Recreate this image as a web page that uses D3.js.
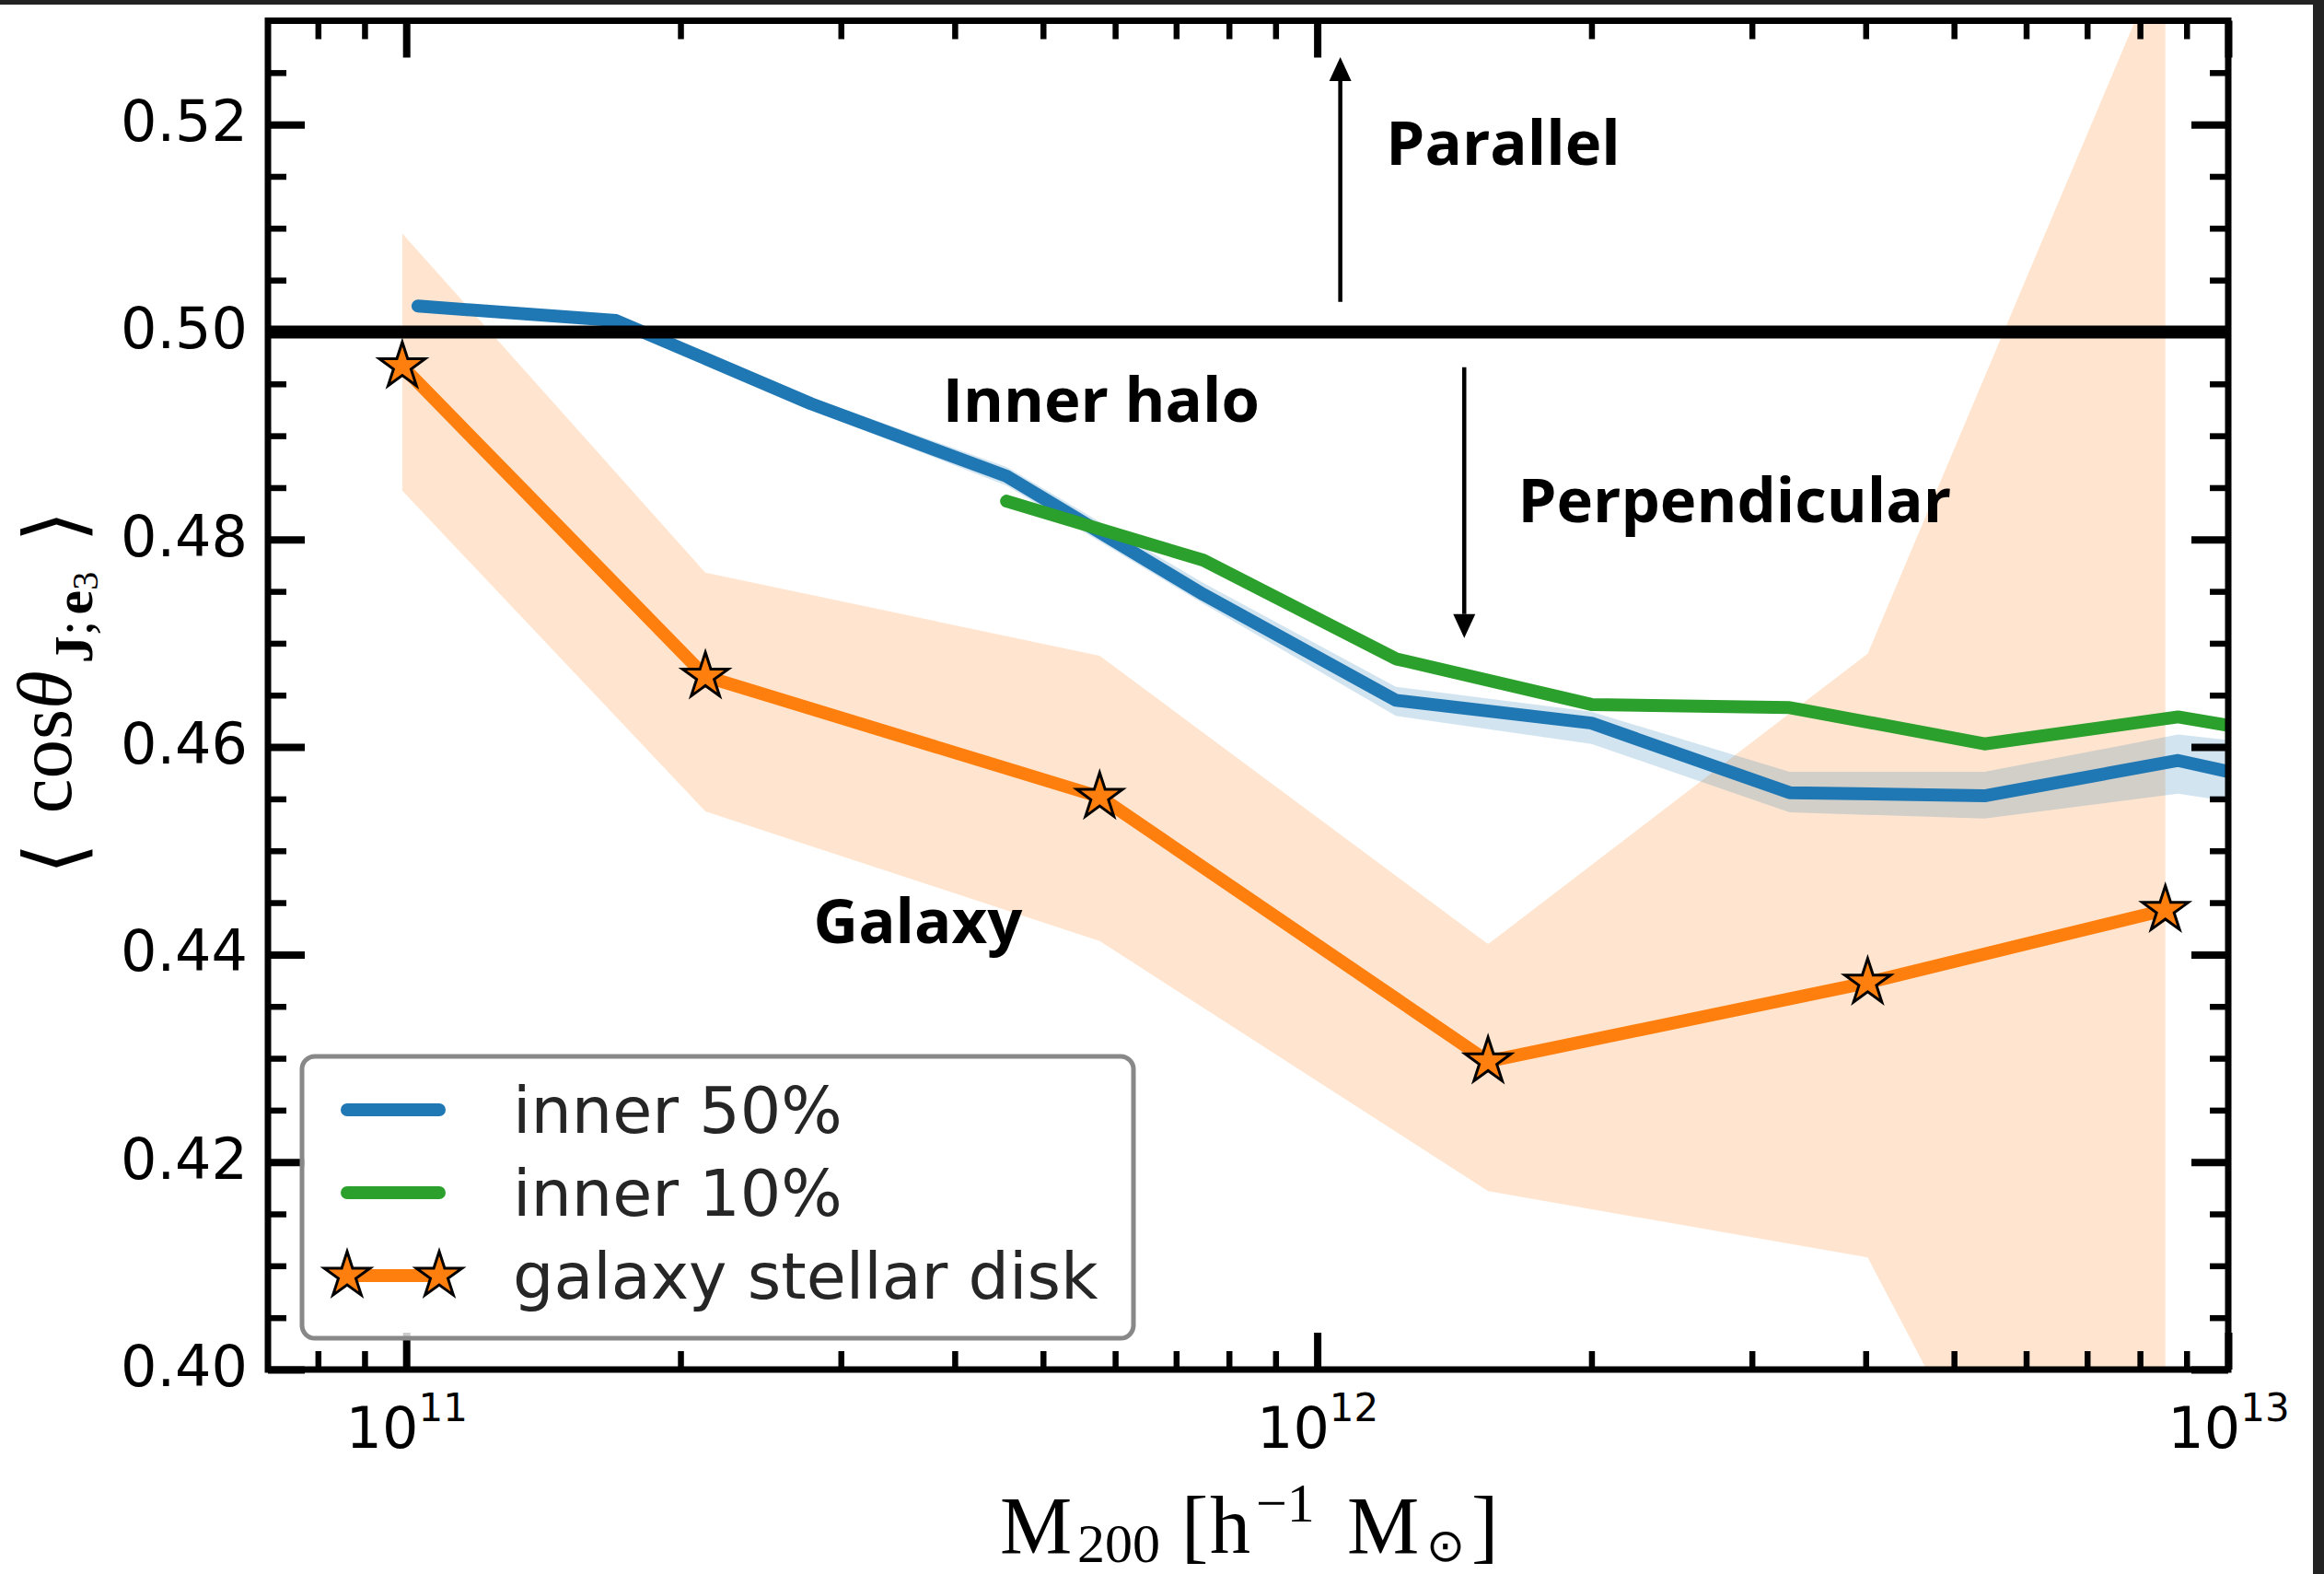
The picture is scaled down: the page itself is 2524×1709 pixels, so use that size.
<!DOCTYPE html>
<html>
<head>
<meta charset="utf-8">
<script src="https://cdn.jsdelivr.net/npm/d3@7"></script>
<style>
  html, body { margin: 0; padding: 0; background: #fff; }
  svg { display: block; }
</style>
</head>
<body>
<script>
// ---- data -------------------------------------------------------------
// halo mass bins used for the inner-halo measurements
const massInner50 = [1.03e11, 1.70e11, 2.78e11, 4.56e11, 7.50e11, 1.22e12, 2.00e12, 3.30e12, 5.40e12, 8.81e12, 1.45e13];
const inner50     = [0.5025, 0.5011, 0.4931, 0.4861, 0.4747, 0.4645, 0.4623, 0.4556, 0.4553, 0.4587, 0.4545];
const inner50Hi   = [0.5029, 0.5016, 0.4937, 0.4870, 0.4758, 0.4658, 0.4634, 0.4576, 0.4576, 0.4612, 0.4591];
const inner50Lo   = [0.5021, 0.5006, 0.4925, 0.4852, 0.4738, 0.4630, 0.4603, 0.4537, 0.4531, 0.4555, 0.4526];

const massInner10 = [4.56e11, 7.50e11, 1.22e12, 2.00e12, 3.30e12, 5.40e12, 8.81e12, 1.45e13];
const inner10     = [0.4837, 0.4780, 0.4685, 0.4641, 0.4638, 0.4603, 0.4629, 0.4597];

// galaxy stellar disk
const massDisk = [9.9e10, 2.13e11, 5.77e11, 1.54e12, 4.02e12, 8.53e12];
const disk     = [0.4967, 0.4668, 0.4552, 0.4297, 0.4373, 0.4443];
const diskHi   = [0.5095, 0.4768, 0.4688, 0.4410, 0.4690, 0.5369];
const diskLo   = [0.4847, 0.4538, 0.4413, 0.4172, 0.4108, 0.3562];

// axes
const xDomain = [7.05e10, 1e13];
const yDomain = [0.40, 0.53];
const xMajorTicks = [1e11, 1e12, 1e13];
const xMinorTicks = [8e10, 9e10, 2e11, 3e11, 4e11, 5e11, 6e11, 7e11, 8e11, 9e11,
                     2e12, 3e12, 4e12, 5e12, 6e12, 7e12, 8e12, 9e12];
const yMajorTicks = [0.40, 0.42, 0.44, 0.46, 0.48, 0.50, 0.52];
const yMinorTicks = [0.405, 0.41, 0.415, 0.425, 0.43, 0.435, 0.445, 0.45, 0.455,
                     0.465, 0.47, 0.475, 0.485, 0.49, 0.495, 0.505, 0.51, 0.515, 0.525];
const refLevel = 0.50;

// annotation anchors [mass, value]
const arrowUp   = [[1.06e12, 0.5029], [1.06e12, 0.5265]];
const arrowDown = [[1.45e12, 0.4966], [1.45e12, 0.4705]];
const notes = [
  { text: "Parallel",      m: 1.19e12, v: 0.5161 },
  { text: "Inner halo",    m: 3.88e11, v: 0.4913 },
  { text: "Perpendicular", m: 1.66e12, v: 0.4817 },
  { text: "Galaxy",        m: 2.80e11, v: 0.4411 }
];

const legendItems = [
  { label: "inner 50%", color: "#1f77b4", star: false },
  { label: "inner 10%", color: "#2ca02c", star: false },
  { label: "galaxy stellar disk", color: "#ff7f0e", star: true }
];

// ---- layout -----------------------------------------------------------
const W = 2524, H = 1709;
const L = 291, R = 2420, T = 22.5, B = 1487;

const svg = d3.select("body").append("svg").attr("width", W).attr("height", H);
svg.append("rect").attr("width", W).attr("height", H).attr("fill", "#fff");

const x = d3.scaleLog().domain(xDomain).range([L, R]);
const y = d3.scaleLinear().domain(yDomain).range([B, T]);

svg.append("clipPath").attr("id", "plotclip")
  .append("rect").attr("x", L).attr("y", T).attr("width", R - L).attr("height", B - T);

const plot = svg.append("g").attr("clip-path", "url(#plotclip)");

const LW = 14;
const band = (ms, lo, hi) => d3.area()
  .x((d, i) => x(ms[i])).y0((d, i) => y(lo[i])).y1((d, i) => y(hi[i]))(ms);
const line = (ms, vs) => d3.line().x((d, i) => x(ms[i])).y((d, i) => y(vs[i]))(ms);

// shaded ranges
plot.append("path").attr("d", band(massDisk, diskLo, diskHi))
  .attr("fill", "#ff7f0e").attr("fill-opacity", 0.2);
plot.append("path").attr("d", band(massInner50, inner50Lo, inner50Hi))
  .attr("fill", "#1f77b4").attr("fill-opacity", 0.2);

// curves
plot.append("path").attr("d", line(massDisk, disk))
  .attr("fill", "none").attr("stroke", "#ff7f0e").attr("stroke-width", LW)
  .attr("stroke-linecap", "round").attr("stroke-linejoin", "round");
plot.append("path").attr("d", line(massInner50, inner50))
  .attr("fill", "none").attr("stroke", "#1f77b4").attr("stroke-width", LW)
  .attr("stroke-linecap", "round").attr("stroke-linejoin", "round");
plot.append("path").attr("d", line(massInner10, inner10))
  .attr("fill", "none").attr("stroke", "#2ca02c").attr("stroke-width", LW)
  .attr("stroke-linecap", "round").attr("stroke-linejoin", "round");

const star = d3.symbol().type(d3.symbolStar).size(770);
plot.selectAll(".star").data(massDisk).join("path")
  .attr("class", "star")
  .attr("transform", (d, i) => `translate(${x(d)},${y(disk[i])})`)
  .attr("d", star)
  .attr("fill", "#ff7f0e").attr("stroke", "#000").attr("stroke-width", 3)
  .attr("stroke-linejoin", "miter");

// reference line
plot.append("line")
  .attr("x1", L).attr("x2", R).attr("y1", y(refLevel)).attr("y2", y(refLevel))
  .attr("stroke", "#000").attr("stroke-width", 14);

// ---- axes -------------------------------------------------------------
const tickFont = "'DejaVu Sans', sans-serif";
function styleAxis(g, width) {
  g.select(".domain").remove();
  g.selectAll(".tick line").attr("stroke", "#000").attr("stroke-width", width);
  g.selectAll(".tick text").attr("fill", "#000").style("font-family", tickFont).style("font-size", "62px");
}

// left
svg.append("g").attr("transform", `translate(${L},0)`)
  .call(d3.axisLeft(y).tickValues(yMajorTicks).tickSize(-40).tickPadding(22).tickFormat(d3.format(".2f")))
  .call(g => styleAxis(g, 8))
  .call(g => g.selectAll(".tick text").attr("dy", "0.28em"));
svg.append("g").attr("transform", `translate(${L},0)`)
  .call(d3.axisLeft(y).tickValues(yMinorTicks).tickSize(-20).tickFormat(""))
  .call(g => styleAxis(g, 6.5));
// right
svg.append("g").attr("transform", `translate(${R},0)`)
  .call(d3.axisRight(y).tickValues(yMajorTicks).tickSize(-40).tickFormat(""))
  .call(g => styleAxis(g, 8));
svg.append("g").attr("transform", `translate(${R},0)`)
  .call(d3.axisRight(y).tickValues(yMinorTicks).tickSize(-20).tickFormat(""))
  .call(g => styleAxis(g, 6.5));
// bottom
svg.append("g").attr("transform", `translate(0,${B})`)
  .call(d3.axisBottom(x).tickValues(xMajorTicks).tickSize(-40).tickPadding(41).tickFormat(() => ""))
  .call(g => styleAxis(g, 8))
  .call(g => g.selectAll(".tick text").each(function (d) {
    const t = d3.select(this);
    t.append("tspan").text("10");
    t.append("tspan").attr("dy", -29).style("font-size", "42px").text(Math.round(Math.log10(d)));
  }));
svg.append("g").attr("transform", `translate(0,${B})`)
  .call(d3.axisBottom(x).tickValues(xMinorTicks).tickSize(-20).tickFormat(""))
  .call(g => styleAxis(g, 6.5));
// top
svg.append("g").attr("transform", `translate(0,${T})`)
  .call(d3.axisTop(x).tickValues(xMajorTicks).tickSize(-40).tickFormat(""))
  .call(g => styleAxis(g, 8));
svg.append("g").attr("transform", `translate(0,${T})`)
  .call(d3.axisTop(x).tickValues(xMinorTicks).tickSize(-20).tickFormat(""))
  .call(g => styleAxis(g, 6.5));

// frame
svg.append("rect").attr("x", L).attr("y", T).attr("width", R - L).attr("height", B - T)
  .attr("fill", "none").attr("stroke", "#000").attr("stroke-width", 7);

// ---- axis titles ------------------------------------------------------
const serif = "'Liberation Serif', 'DejaVu Serif', serif";
const xt = svg.append("text").attr("fill", "#000").style("font-family", serif).style("font-size", "88px");
xt.append("tspan").attr("x", 1086).attr("y", 1686).text("M");
xt.append("tspan").attr("x", 1170).attr("y", 1696).style("font-size", "60px").text("200");
xt.append("tspan").attr("x", 1283).attr("y", 1686).text("[");
xt.append("tspan").attr("x", 1314).attr("y", 1686).text("h");
xt.append("tspan").attr("x", 1364).attr("y", 1652).style("font-size", "60px").text("\u22121");
xt.append("tspan").attr("x", 1463).attr("y", 1686).text("M");
xt.append("tspan").attr("x", 1549).attr("y", 1695).style("font-size", "50px")
  .style("font-family", "'DejaVu Sans', sans-serif").text("\u2299");
xt.append("tspan").attr("x", 1598).attr("y", 1686).text("]");

const yt = svg.append("text").attr("transform", "translate(77,752) rotate(-90)")
  .attr("text-anchor", "middle").attr("fill", "#000")
  .style("font-family", serif).style("font-size", "85px");
yt.append("tspan").attr("dy", 12).style("font-family", "'DejaVu Sans', sans-serif").style("font-size", "88px").text("\u27E8");
yt.append("tspan").attr("dx", 32).attr("dy", -12).text("cos");
yt.append("tspan").style("font-style", "italic").text("\u03B8");
yt.append("tspan").attr("dx", 8).attr("dy", 23).style("font-weight", "bold").style("font-size", "60px").text("J");
yt.append("tspan").style("font-size", "60px").text(";");
yt.append("tspan").attr("dx", 6).style("font-weight", "bold").style("font-size", "60px").text("e");
yt.append("tspan").attr("dy", 6).style("font-size", "40px").text("3");
yt.append("tspan").attr("dx", 32).attr("dy", -17).style("font-family", "'DejaVu Sans', sans-serif").style("font-size", "88px").text("\u27E9");

// ---- annotations ------------------------------------------------------
function arrow(pts) {
  const [p0, p1] = pts;
  const x0 = x(p0[0]), y0 = y(p0[1]), x1 = x(p1[0]), y1 = y(p1[1]);
  const dir = Math.sign(y1 - y0);
  const headL = 26, headW = 12;
  svg.append("line").attr("x1", x0).attr("y1", y0).attr("x2", x1).attr("y2", y1 - dir * headL)
    .attr("stroke", "#000").attr("stroke-width", 4.5);
  svg.append("path")
    .attr("d", `M${x1},${y1} L${x1 - headW},${y1 - dir * headL} L${x1 + headW},${y1 - dir * headL} Z`)
    .attr("fill", "#000");
}
arrow(arrowUp);
arrow(arrowDown);

svg.selectAll(".note").data(notes).join("text")
  .attr("class", "note")
  .attr("x", d => x(d.m)).attr("y", d => y(d.v))
  .attr("fill", "#000")
  .style("font-family", "'Open Sans', 'Lato', sans-serif")
  .style("font-weight", 700).style("font-size", "67px")
  .text(d => d.text);

// ---- legend -----------------------------------------------------------
const lg = svg.append("g");
lg.append("rect").attr("x", 328).attr("y", 1147).attr("width", 903).attr("height", 306)
  .attr("rx", 14).attr("fill", "#fff").attr("fill-opacity", 0.8)
  .attr("stroke", "#888").attr("stroke-width", 5);
const rows = lg.selectAll(".row").data(legendItems).join("g")
  .attr("class", "row").attr("transform", (d, i) => `translate(0,${1205 + i * 90})`);
rows.append("line").attr("x1", 377).attr("x2", 477).attr("y1", 0).attr("y2", 0)
  .attr("stroke", d => d.color).attr("stroke-width", LW)
  .attr("stroke-linecap", d => d.star ? "butt" : "round");
rows.filter(d => d.star).selectAll(".lstar").data([377, 477]).join("path")
  .attr("transform", d => `translate(${d},0)`).attr("d", star)
  .attr("fill", "#ff7f0e").attr("stroke", "#000").attr("stroke-width", 3);
rows.append("text").attr("x", 557).attr("y", 25)
  .attr("fill", "#262626")
  .style("font-family", tickFont).style("font-size", "70px")
  .text(d => d.label);

// ---- outer border strips ---------------------------------------------
svg.append("rect").attr("x", 0).attr("y", 0).attr("width", W).attr("height", 5).attr("fill", "#222");
svg.append("rect").attr("x", 2512).attr("y", 0).attr("width", 12).attr("height", H).attr("fill", "#222");
</script>
</body>
</html>
